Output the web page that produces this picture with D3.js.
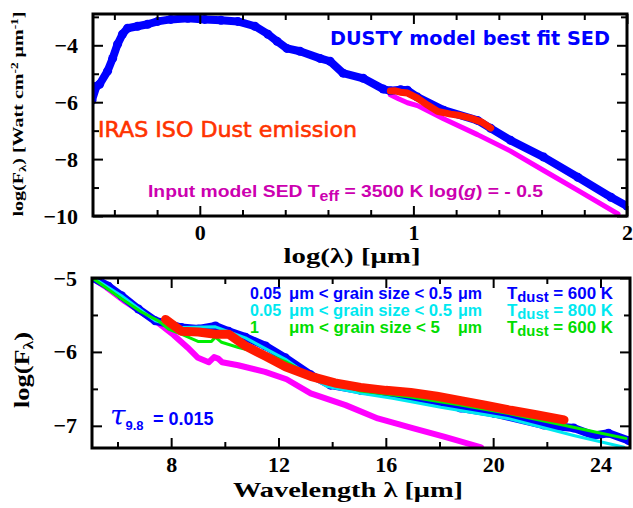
<!DOCTYPE html>
<html>
<head>
<meta charset="utf-8">
<script src="https://cdn.jsdelivr.net/npm/d3@7"></script>
<style>
body{margin:0;background:#fff}
.tk text{font-family:"Liberation Serif",serif;font-weight:bold;font-size:22px;fill:#000}
.tk line{stroke:#000;stroke-width:2}
.tk path{display:none}
</style>
</head>
<body>
<svg id="chart" width="633" height="508"></svg>
<script>
// panel de arriba: log(lambda) vs log(F)
var topBlueX = [-0.505,-0.484,-0.469,-0.432,-0.408,-0.385,-0.362,-0.338,-0.291,-0.244,-0.197,-0.136,-0.056,0.023,0.099,0.178,0.258,0.319,0.362,0.408,0.469,0.563,0.610,0.671,0.765,0.859,0.892,0.940,0.972,1.019,1.141,1.300,1.362,1.455,1.610,1.770,1.925,2.0]
var topBlueY = [-5.93,-5.44,-5.37,-4.91,-4.46,-3.96,-3.61,-3.40,-3.33,-3.26,-3.16,-3.09,-3.05,-3.09,-3.12,-3.16,-3.33,-3.61,-3.86,-4.11,-4.21,-4.46,-4.56,-4.98,-5.16,-5.54,-5.60,-5.56,-5.58,-5.82,-6.28,-6.64,-6.92,-7.34,-7.93,-8.64,-9.34,-9.65]
var topRedX = [0.892,0.915,0.939,0.972,1.019,1.066,1.113,1.174,1.22,1.268,1.32,1.362]
var topRedY = [-5.61,-5.60,-5.65,-5.68,-5.86,-6.10,-6.32,-6.42,-6.47,-6.56,-6.70,-6.91]
var topMagX = [0.892,0.93,0.972,1.019,1.141,1.300,1.455,1.610,1.770,1.958]
var topMagY = [-5.74,-5.88,-6.02,-6.12,-6.58,-7.14,-7.72,-8.40,-9.10,-9.93]

// panel de abajo: wavelength vs log(F)
var botBlueX = [5.10,5.66,6.15,6.78,7.41,7.90,8.38,9.02,9.65,10.14,10.77,11.52,12.26,13.20,13.94,15.06,16.93,18.05,18.79,20.03,21.89,23.0,23.76,24.3,25.05]
var botBlueY = [-5.00,-5.11,-5.24,-5.42,-5.58,-5.62,-5.67,-5.69,-5.65,-5.72,-5.80,-5.92,-6.08,-6.31,-6.45,-6.52,-6.61,-6.68,-6.76,-6.83,-6.99,-7.03,-7.13,-7.10,-7.20]
var botCyanX = [5.10,6.15,7.41,8.38,9.65,10.77,12.26,13.20,13.83,15.06,16.30,18.05,20.54,23.0,24.88]
var botCyanY = [-5.00,-5.24,-5.58,-5.67,-5.66,-5.81,-6.10,-6.34,-6.47,-6.56,-6.63,-6.75,-6.90,-7.13,-7.29]
var botGreenX = [5.10,6.15,6.89,7.53,7.90,8.38,9.02,9.50,9.65,9.88,10.51,10.96,11.5,12.26,13.2,15.06,16.93,18.79,20.66,22.6,23.76,24.95]
var botGreenY = [-5.01,-5.28,-5.46,-5.58,-5.69,-5.76,-5.86,-5.86,-5.80,-5.87,-5.94,-5.98,-6.02,-6.13,-6.32,-6.53,-6.61,-6.72,-6.84,-6.99,-7.08,-7.17]
var botRedX = [7.79,8.38,9.02,9.65,10.14,10.77,11.52,12.26,13.20,14.1,15.06,16.0,16.93,17.9,18.79,19.7,20.66,21.6,22.64]
var botRedY = [-5.56,-5.72,-5.73,-5.76,-5.76,-5.92,-6.06,-6.20,-6.33,-6.42,-6.48,-6.52,-6.55,-6.60,-6.66,-6.72,-6.79,-6.85,-6.92]
var botMagX = [5.10,5.6,6.22,6.97,7.49,8.09,8.61,9.0,9.4,9.6,9.75,9.9,10.5,11.5,12.3,13.2,14.5,15.7,17.0,18.2,19.55]
var botMagY = [-5.01,-5.13,-5.30,-5.48,-5.60,-5.77,-5.94,-6.08,-6.14,-6.07,-6.09,-6.14,-6.18,-6.27,-6.37,-6.56,-6.72,-6.90,-7.03,-7.15,-7.29]

// ticks
var topXMajor = [0,1,2]
var topXMinor = [-0.4,-0.2,0.2,0.4,0.6,0.8,1.2,1.4,1.6,1.8]
var topYMajor = [-4,-6,-8,-10]
var topYMinor = [-3,-5,-7,-9]
var botXMajor = [8,12,16,20,24]
var botXMinor = [6,10,14,18,22]
var botYMajor = [-5,-6,-7]
var botYMinor = [-5.5,-6.5]

// leyenda
var grainMin = ["0.05","0.05","1"]
var grainRange = ["μm < grain size < 0.5","μm < grain size < 0.5","μm < grain size < 5"]
var tDust = [600,800,600]
var legendColor = ["#0000ff","#00e8f0","#00dd00"]

var svg = d3.select("#chart")

//escalas
var xTop = d3.scaleLinear().domain([-0.5,2]).range([93,627])
var yTop = d3.scaleLinear().domain([-10,-2.9]).range([216,14])
var xBot = d3.scaleLinear().domain([5.05,25.1]).range([92,630])
var yBot = d3.scaleLinear().domain([-7.3,-5]).range([448,278])

function drawTicks(xs, ys, xMaj, xMin, yMaj, yMin){
    var x0 = xs.range()[0], x1 = xs.range()[1]
    var y0 = ys.range()[1], y1 = ys.range()[0]
    var fmt = d3.format("d")
    // abajo con numeros
    svg.append("g").attr("class","tk").attr("transform","translate(0,"+y1+")")
        .call(d3.axisBottom(xs).tickValues(xMaj).tickSize(-10).tickPadding(8).tickFormat(fmt))
    svg.append("g").attr("class","tk").attr("transform","translate(0,"+y1+")")
        .call(d3.axisBottom(xs).tickValues(xMin).tickSize(-6).tickFormat(""))
    svg.append("g").attr("class","tk").attr("transform","translate(0,"+y0+")")
        .call(d3.axisTop(xs).tickValues(xMaj).tickSize(-10).tickFormat(""))
    svg.append("g").attr("class","tk").attr("transform","translate(0,"+y0+")")
        .call(d3.axisTop(xs).tickValues(xMin).tickSize(-6).tickFormat(""))
    svg.append("g").attr("class","tk").attr("transform","translate("+x0+",0)")
        .call(d3.axisLeft(ys).tickValues(yMaj).tickSize(-10).tickPadding(15).tickFormat(fmt))
    svg.append("g").attr("class","tk").attr("transform","translate("+x0+",0)")
        .call(d3.axisLeft(ys).tickValues(yMin).tickSize(-6).tickFormat(""))
    svg.append("g").attr("class","tk").attr("transform","translate("+x1+",0)")
        .call(d3.axisRight(ys).tickValues(yMaj).tickSize(-10).tickFormat(""))
    svg.append("g").attr("class","tk").attr("transform","translate("+x1+",0)")
        .call(d3.axisRight(ys).tickValues(yMin).tickSize(-6).tickFormat(""))
}

function curve(xs, ys, xv, yv, color, width, dotR){
    var pts = d3.zip(xv, yv)
    var line = d3.line().x(function(d){ return xs(d[0]) }).y(function(d){ return ys(d[1]) })
    svg.append("path").datum(pts)
        .attr("d", line)
        .attr("fill","none")
        .attr("stroke", color)
        .attr("stroke-width", width)
        .attr("stroke-linejoin","round")
        .attr("stroke-linecap","round")
    if (dotR){
        svg.append("g").selectAll("circle").data(pts).enter().append("circle")
            .attr("cx", function(d){ return xs(d[0]) })
            .attr("cy", function(d){ return ys(d[1]) })
            .attr("r", dotR)
            .attr("fill", color)
    }
}

// clip para que no salgan del marco
svg.append("clipPath").attr("id","cTop").append("rect").attr("x",93).attr("y",14).attr("width",534).attr("height",202)
svg.append("clipPath").attr("id","cBot").append("rect").attr("x",92).attr("y",278).attr("width",538).attr("height",170)

// ---- panel de arriba
var gt = svg.append("g").attr("clip-path","url(#cTop)")
var saveSvg = svg
svg = gt
curve(xTop, yTop, topMagX, topMagY, "#ff00ff", 5)
curve(xTop, yTop, topBlueX, topBlueY, "#0000ff", 8, 4.5)
curve(xTop, yTop, topRedX, topRedY, "#ff1a00", 7)
svg = saveSvg

drawTicks(xTop, yTop, topXMajor, topXMinor, topYMajor, topYMinor)
svg.append("rect").attr("x",93).attr("y",14).attr("width",534).attr("height",202)
    .attr("fill","none").attr("stroke","#000").attr("stroke-width",3)

svg.append("text").attr("x",330).attr("y",45)
    .attr("font-family","DejaVu Sans").attr("font-weight","bold").attr("font-size",19)
    .attr("fill","#0000ff").attr("textLength",280).attr("lengthAdjust","spacingAndGlyphs")
    .text("DUSTY model best fit SED")
svg.append("text").attr("x",98).attr("y",137)
    .attr("font-family","DejaVu Sans").attr("font-size",22)
    .attr("fill","#ff3300").attr("stroke","#ff3300").attr("stroke-width",0.6)
    .attr("textLength",259).attr("lengthAdjust","spacingAndGlyphs")
    .text("IRAS ISO Dust emission")

var inp = svg.append("text").attr("x",148).attr("y",197)
    .attr("font-family","Liberation Sans").attr("font-weight","bold").attr("font-size",17)
    .attr("fill","#cc00b0").attr("textLength",395).attr("lengthAdjust","spacingAndGlyphs")
inp.append("tspan").text("Input model SED T")
inp.append("tspan").attr("dy",4).attr("font-size",14).text("eff")
inp.append("tspan").attr("dy",-4).text(" = 3500 K  log(")
inp.append("tspan").attr("font-style","italic").text("g")
inp.append("tspan").text(") = - 0.5")

// titulos de ejes arriba
svg.append("text").attr("x",352).attr("y",263).attr("text-anchor","middle")
    .attr("font-family","Liberation Serif").attr("font-weight","bold").attr("font-size",22)
    .attr("textLength",137).attr("lengthAdjust","spacingAndGlyphs")
    .text("log(λ)  [μm]")
var yl = svg.append("text").attr("transform","translate(23,114) rotate(-90)").attr("text-anchor","middle")
    .attr("font-family","Liberation Serif").attr("font-weight","bold").attr("font-size",15)
    .attr("textLength",205).attr("lengthAdjust","spacingAndGlyphs")
yl.append("tspan").text("log(F")
yl.append("tspan").attr("dy",3).attr("font-size",11).text("λ")
yl.append("tspan").attr("dy",-3).text(")  [Watt cm")
yl.append("tspan").attr("dy",-5).attr("font-size",10).text("-2")
yl.append("tspan").attr("dy",5).text(" μm")
yl.append("tspan").attr("dy",-5).attr("font-size",10).text("-1")
yl.append("tspan").attr("dy",5).text("]")

// ---- panel de abajo
var gb = svg.append("g").attr("clip-path","url(#cBot)")
svg = gb
curve(xBot, yBot, botMagX, botMagY, "#ff00ff", 6)
curve(xBot, yBot, botBlueX, botBlueY, "#0000ff", 8, 4.5)
curve(xBot, yBot, botCyanX, botCyanY, "#00e8f0", 3)
curve(xBot, yBot, botGreenX, botGreenY, "#00ee00", 3)
curve(xBot, yBot, botRedX, botRedY, "#ff1a00", 9)
svg = saveSvg

drawTicks(xBot, yBot, botXMajor, botXMinor, botYMajor, botYMinor)
svg.append("rect").attr("x",92).attr("y",278).attr("width",538).attr("height",170)
    .attr("fill","none").attr("stroke","#000").attr("stroke-width",3)

// leyenda
var rows = svg.append("g").selectAll("g").data(grainMin).enter().append("g")
    .attr("transform", function(d,i){ return "translate(0," + (299 + i*17) + ")" })
    .attr("font-family","Liberation Sans").attr("font-weight","bold").attr("font-size",16)
    .attr("fill", function(d,i){ return legendColor[i] })
rows.append("text").attr("x",250).text(function(d){ return d })
rows.append("text").attr("x",289)
    .attr("textLength", function(d,i){ return i < 2 ? 163 : 151 })
    .attr("lengthAdjust","spacingAndGlyphs")
    .text(function(d,i){ return grainRange[i] })
rows.append("text").attr("x",458).text("μm")
var td = rows.append("text").attr("x",507).attr("textLength",106).attr("lengthAdjust","spacingAndGlyphs")
td.append("tspan").text("T")
td.append("tspan").attr("dy",3).attr("font-size",14).text("dust")
td.append("tspan").attr("dy",-3).text(function(d,i){ return " = " + tDust[i] + " K" })

var tau = svg.append("text").attr("x",110).attr("y",425).attr("fill","#0000ff")
    .attr("font-family","DejaVu Serif").attr("font-style","italic").attr("font-size",28)
tau.append("tspan").text("τ")
tau.append("tspan").attr("dy",5).attr("font-size",13).attr("font-weight","bold").attr("font-style","normal")
    .attr("font-family","Liberation Sans").text("9.8")
tau.append("tspan").attr("x",153).attr("dy",-5).attr("font-size",18).attr("font-weight","bold").attr("font-style","normal")
    .attr("font-family","Liberation Sans").text("= 0.015")

svg.append("text").attr("x",348).attr("y",497).attr("text-anchor","middle")
    .attr("font-family","Liberation Serif").attr("font-weight","bold").attr("font-size",22)
    .attr("textLength",230).attr("lengthAdjust","spacingAndGlyphs")
    .text("Wavelength  λ  [μm]")
var yl2 = svg.append("text").attr("transform","translate(29,370) rotate(-90)").attr("text-anchor","middle")
    .attr("font-family","Liberation Serif").attr("font-weight","bold").attr("font-size",21)
    .attr("textLength",76).attr("lengthAdjust","spacingAndGlyphs")
yl2.append("tspan").text("log(F")
yl2.append("tspan").attr("dy",4).attr("font-size",14).text("λ")
yl2.append("tspan").attr("dy",-4).text(")")
</script>
</body>
</html>
